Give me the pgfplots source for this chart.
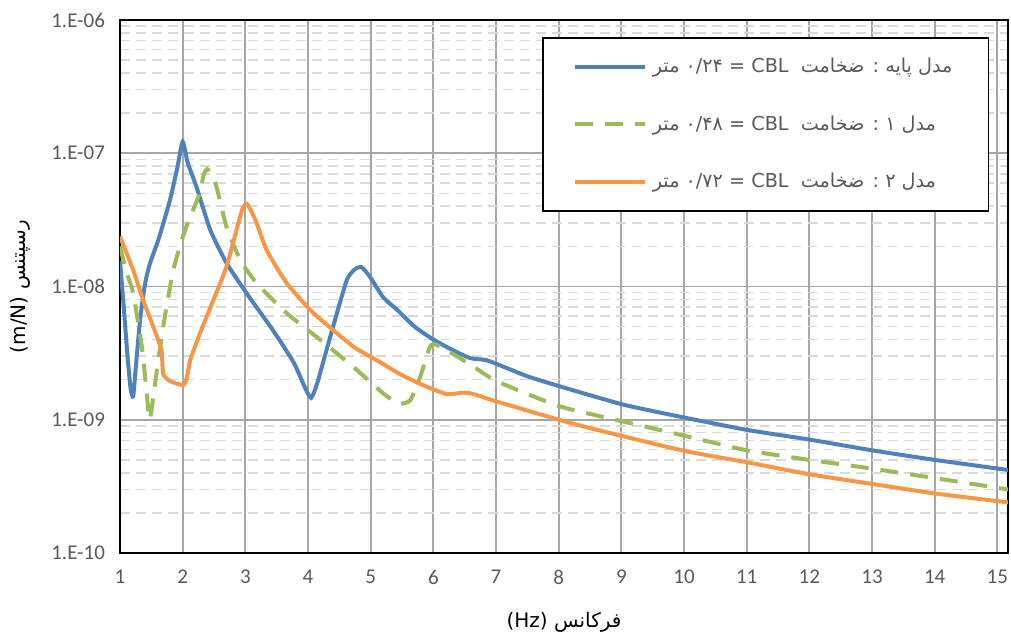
\documentclass[border=0pt]{standalone}
\usepackage{pgfplots}
\pgfplotsset{compat=1.18}
\usepackage{fontspec}
\setmainfont{Carlito}
\newfontfamily\arabicfont[Script=Arabic]{DejaVu Sans}
\TeXXeTstate=1
\definecolor{tickgray}{HTML}{595959}
\definecolor{majgrid}{HTML}{A6A6A6}
\definecolor{mingrid}{HTML}{D9D9D9}
\definecolor{cblue}{HTML}{4F81BD}
\definecolor{cgreen}{HTML}{9BBB59}
\definecolor{corange}{HTML}{F79646}

% Receptance curves (m/N) against frequency (Hz)
\pgfplotstableread{
x y
1.00 1.55e-8
1.06 7.0e-9
1.12 3.0e-9
1.17 1.7e-9
1.21 1.5e-9
1.25 2.4e-9
1.32 5.6e-9
1.40 1.05e-8
1.48 1.5e-8
1.62 2.3e-8
1.80 4.5e-8
1.92 8.0e-8
2.00 1.22e-7
2.08 8.5e-8
2.22 5.6e-8
2.44 2.66e-8
2.70 1.5e-8
3.02 8.9e-9
3.44 4.7e-9
3.77 2.7e-9
3.95 1.75e-9
4.05 1.46e-9
4.15 1.9e-9
4.40 5.0e-9
4.62 1.12e-8
4.75 1.35e-8
4.85 1.4e-8
4.98 1.2e-8
5.20 8.3e-9
5.42 6.7e-9
5.70 5.0e-9
6.00 4.0e-9
6.30 3.35e-9
6.59 2.9e-9
6.85 2.8e-9
7.12 2.5e-9
7.50 2.12e-9
8.02 1.78e-9
9.03 1.3e-9
10.0 1.04e-9
11.0 8.4e-10
12.0 7.1e-10
13.0 5.9e-10
14.0 5.0e-10
15.17 4.2e-10
}\basemodel

\pgfplotstableread{
x y
1.00 2.0e-8
1.10 1.3e-8
1.21 8.9e-9
1.35 3.5e-9
1.42 1.7e-9
1.47 1.0e-9
1.52 1.35e-9
1.58 2.2e-9
1.69 5.0e-9
1.85 1.33e-8
2.04 2.66e-8
2.25 4.7e-8
2.34 7.0e-8
2.39 7.6e-8
2.45 7.0e-8
2.54 5.6e-8
2.70 2.8e-8
2.92 1.58e-8
3.18 1.06e-8
3.66 6.3e-9
4.19 4.0e-9
4.72 2.5e-9
5.20 1.58e-9
5.44 1.32e-9
5.63 1.4e-9
5.79 2.1e-9
5.95 3.55e-9
6.08 3.6e-9
6.59 2.6e-9
7.01 1.95e-9
8.02 1.26e-9
9.03 9.7e-10
10.0 7.6e-10
11.0 5.9e-10
12.0 5.0e-10
13.0 4.3e-10
14.0 3.65e-10
15.17 3.0e-10
}\modelone

\pgfplotstableread{
x y
1.00 2.37e-8
1.21 1.33e-8
1.37 7.9e-9
1.53 5.0e-9
1.66 3.35e-9
1.69 2.2e-9
1.80 1.95e-9
2.01 1.82e-9
2.07 2.1e-9
2.12 2.8e-9
2.28 4.5e-9
2.49 7.9e-9
2.70 1.41e-8
2.86 2.66e-8
2.96 3.9e-8
3.02 4.17e-8
3.08 3.8e-8
3.18 3.0e-8
3.34 1.88e-8
3.66 1.06e-8
4.09 6.3e-9
4.72 3.55e-9
5.04 2.9e-9
5.47 2.2e-9
5.80 1.85e-9
6.21 1.56e-9
6.48 1.6e-9
6.64 1.56e-9
7.01 1.37e-9
8.07 9.8e-10
8.61 8.4e-10
10.0 5.85e-10
11.0 4.8e-10
12.0 3.9e-10
13.0 3.3e-10
14.0 2.8e-10
15.17 2.4e-10
}\modeltwo

\newcommand{\lgtext}[2]{\arabicfont\beginR #1 : ضخامت\ \ \beginL CBL\endL{} = \beginL #2\endL{} متر\endR}

\begin{document}
\begin{tikzpicture}
\path[use as bounding box] (-60bp,-42.5bp) rectangle (445.5bp,276.5bp);
\begin{axis}[
  at={(0,0)}, anchor=south west,
  scale only axis, width=444bp, height=266.5bp,
  xmin=1, xmax=15.17,
  ymode=log, ymin=1e-10, ymax=1e-6,
  xtick={1,2,...,15},
  ytick={1e-10,1e-9,1e-8,1e-7,1e-6},
  yticklabels={1.E-10,1.E-09,1.E-08,1.E-07,1.E-06},
  minor ytick={2e-10,3e-10,4e-10,5e-10,6e-10,7e-10,8e-10,9e-10,
               2e-9,3e-9,4e-9,5e-9,6e-9,7e-9,8e-9,9e-9,
               2e-8,3e-8,4e-8,5e-8,6e-8,7e-8,8e-8,9e-8,
               2e-7,3e-7,4e-7,5e-7,6e-7,7e-7,8e-7,9e-7},
  xmajorgrids, ymajorgrids, yminorgrids,
  major grid style={majgrid, line width=0.9bp},
  minor grid style={mingrid, line width=0.8bp, dash pattern=on 5bp off 3bp},
  major tick length=0pt, minor tick length=0pt,
  axis line style={black, line width=0.9bp},
  tick label style={font=\fontsize{10.5bp}{12bp}\selectfont, text=tickgray},
  /pgf/number format/assume math mode=true,
  xticklabel style={yshift=-5bp},
  yticklabel style={xshift=-4bp},
  xlabel={\arabicfont\beginR فرکانس \beginL(Hz)\endL\endR},
  xlabel style={font=\fontsize{10bp}{12bp}\selectfont, at={(0.5,-34.5bp)}, anchor=center, yshift=0bp},
  ylabel={\arabicfont\beginR رسپتنس \beginL(m/N)\endL\endR},
  ylabel style={font=\fontsize{10bp}{12bp}\selectfont, at={(-50bp,0.5)}, anchor=center, rotate=0},
  legend cell align=left,
  legend style={at={(0.4752,0.9681)}, anchor=north west, draw=black, line width=0.9bp,
    font=\fontsize{9.6bp}{12bp}\selectfont, text=tickgray,
    inner xsep=15bp, inner ysep=7bp, row sep=14bp,
    nodes={inner sep=3bp, anchor=west}},
  legend image code/.code={\draw[#1] (0bp,0bp) -- (35bp,0bp);},
]
\addplot[cblue, line width=2bp, smooth, tension=0.35] table {\basemodel};
\addlegendentry{\lgtext{مدل پایه}{۰/۲۴}}
\addplot[cgreen, line width=2bp, dash pattern=on 9bp off 6bp, smooth, tension=0.35] table {\modelone};
\addlegendentry{\lgtext{مدل ۱}{۰/۴۸}}
\addplot[corange, line width=2bp, smooth, tension=0.35] table {\modeltwo};
\addlegendentry{\lgtext{مدل ۲}{۰/۷۲}}
\end{axis}
\end{tikzpicture}
\end{document}
